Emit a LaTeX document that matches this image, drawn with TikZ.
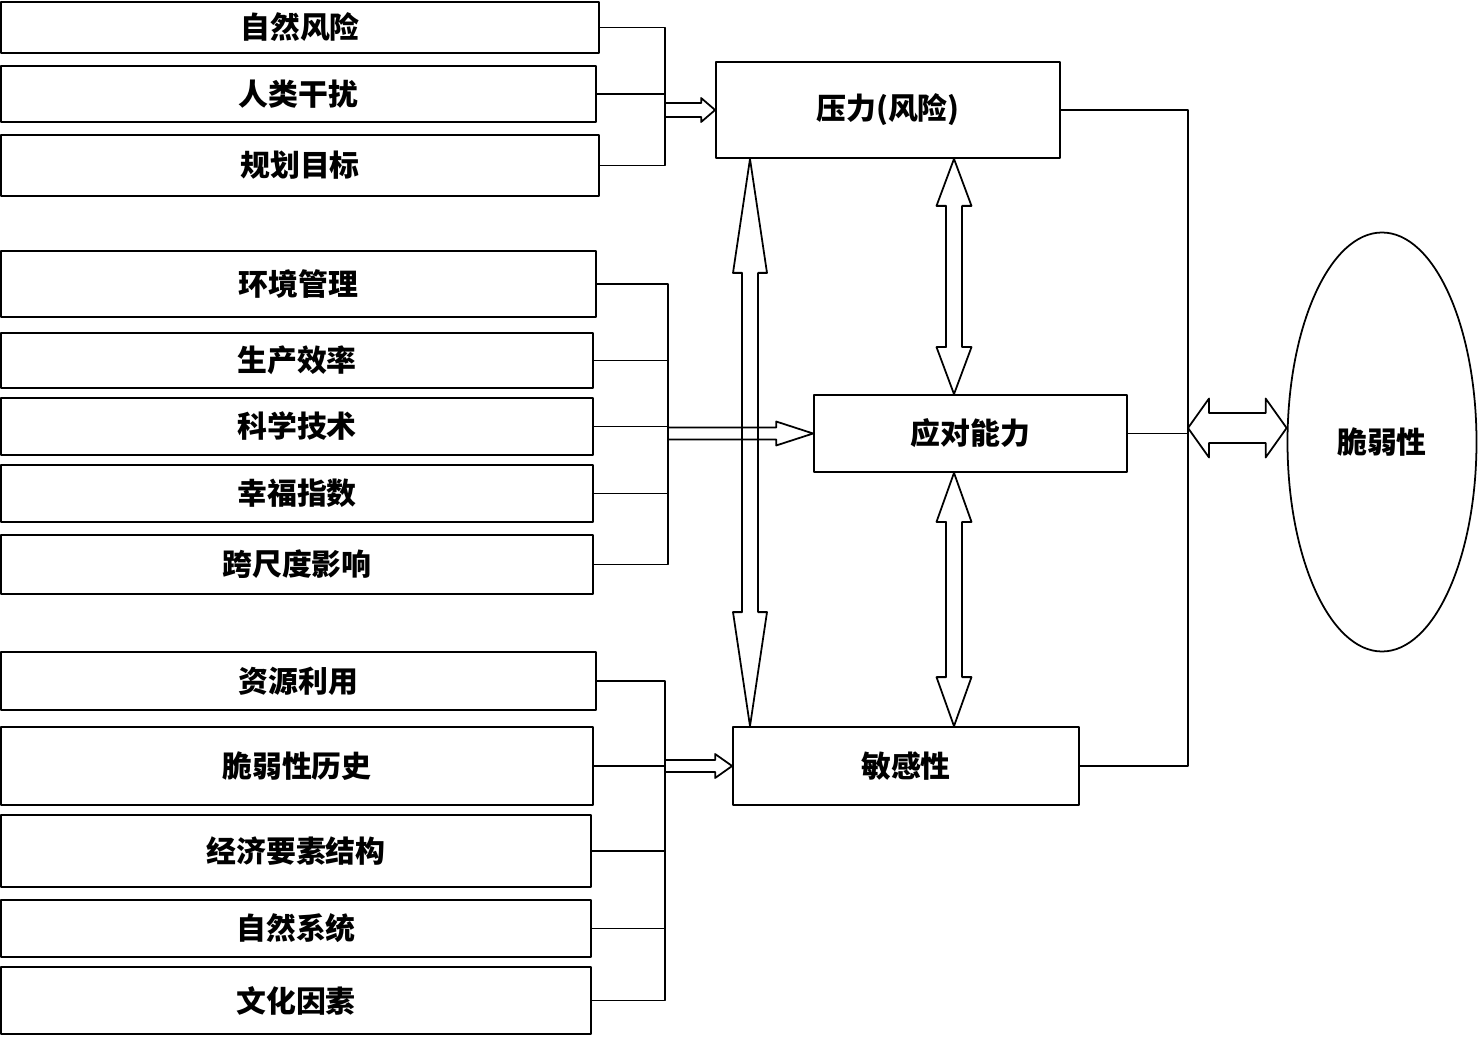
\documentclass[tikz,border=0pt]{standalone}
\usepackage{fontspec}
\usepackage{tikz}
\usetikzlibrary{calc,shapes.geometric}
\newfontfamily\cjk{Noto Sans CJK SC}
\tikzset{
  box/.style 2 args={draw,rectangle,minimum width=#1*0.02cm,minimum height=#2*0.02cm},
  harr/.style n args={3}{to path={($(\tikztostart)+(0,-#1)$) -- ($(\tikztotarget)+(-#3,-#1)$) -- ($(\tikztotarget)+(-#3,-#2)$) -- (\tikztotarget) -- ($(\tikztotarget)+(-#3,#2)$) -- ($(\tikztotarget)+(-#3,#1)$) -- ($(\tikztostart)+(0,#1)$)}},
  hdbl/.style n args={3}{to path={(\tikztostart) -- ($(\tikztostart)+(#3,-#2)$) -- ($(\tikztostart)+(#3,-#1)$) -- ($(\tikztotarget)+(-#3,-#1)$) -- ($(\tikztotarget)+(-#3,-#2)$) -- (\tikztotarget) -- ($(\tikztotarget)+(-#3,#2)$) -- ($(\tikztotarget)+(-#3,#1)$) -- ($(\tikztostart)+(#3,#1)$) -- ($(\tikztostart)+(#3,#2)$) -- cycle}},
  vdbl/.style n args={3}{to path={(\tikztostart) -- ($(\tikztostart)+(#2,#3)$) -- ($(\tikztostart)+(#1,#3)$) -- ($(\tikztotarget)+(#1,-#3)$) -- ($(\tikztotarget)+(#2,-#3)$) -- (\tikztotarget) -- ($(\tikztotarget)+(-#2,-#3)$) -- ($(\tikztotarget)+(-#1,-#3)$) -- ($(\tikztostart)+(-#1,#3)$) -- ($(\tikztostart)+(-#2,#3)$) -- cycle}}
}

\begin{document}
\begin{tikzpicture}[x=0.02cm,y=-0.02cm,line width=1pt,line join=round,
  every node/.style={inner sep=0pt,font=\cjk\bfseries\fontsize{17}{20}\selectfont}]
\useasboundingbox (0,0) rectangle (1478,1037);
\node[box={598}{51}] (nat) at (300,27.5) {自然风险};
\node[box={595}{56}] (hum) at (298.5,94) {人类干扰};
\node[box={598}{61}] (plan) at (300,165.5) {规划目标};
\node[box={595}{66}] (env) at (298.5,284) {环境管理};
\node[box={592}{55}] (prod) at (297,360.5) {生产效率};
\node[box={592}{57}] (tech) at (297,426.5) {科学技术};
\node[box={592}{57}] (happy) at (297,493.5) {幸福指数};
\node[box={592}{59}] (cross) at (297,564.5) {跨尺度影响};
\node[box={595}{58}] (res) at (298.5,681) {资源利用};
\node[box={592}{78}] (hist) at (297,766) {脆弱性历史};
\node[box={590}{72}] (econ) at (296,851) {经济要素结构};
\node[box={590}{57}] (natsys) at (296,928.5) {自然系统};
\node[box={590}{67}] (cult) at (296,1000.5) {文化因素};
\node[box={344}{96}] (pres) at (888,110) {压力(风险)};
\node[box={313}{77}] (cope) at (970.5,433.5) {应对能力};
\node[box={346}{78}] (sens) at (906,766) {敏感性};
\node[draw,ellipse,minimum width=189*0.02cm,minimum height=419*0.02cm] (vul) at (1382,442) {脆弱性};
\coordinate (ka) at (665,110);
\coordinate (kb) at (668,433.5);
\coordinate (kc) at (665,766);
\coordinate (kr) at (1188,428);
\coordinate (lx) at (750,0);
\coordinate (mx) at (954,0);
\draw (nat.east) -| (ka);
\draw (plan.east) -| (ka);
\draw (hum.east) -- (hum.east -| ka);
\draw (env.east) -| (kb);
\draw (prod.east) -| (kb);
\draw (tech.east) -- (tech.east -| kb);
\draw (happy.east) -| (kb);
\draw (cross.east) -| (kb);
\draw (res.east) -| (kc);
\draw (hist.east) -- (hist.east -| kc);
\draw (econ.east) -| (kc);
\draw (natsys.east) -| (kc);
\draw (cult.east) -| (kc);
\draw[harr={7}{12}{14}] (ka) to (pres.west);
\draw[harr={6}{12}{37}] (kb) to (cope.west);
\draw[harr={6}{12}{17}] (kc) to (sens.west);
\draw[vdbl={8}{17}{114}] (pres.south -| lx) to (sens.north -| lx);
\draw[vdbl={8}{17.5}{47}] (pres.south -| mx) to (cope.north -| mx);
\draw[vdbl={8}{17.5}{49}] (cope.south -| mx) to (sens.north -| mx);
\draw (pres.east) -| (kr);
\draw (sens.east) -| (kr);
\draw (cope.east) -- (cope.east -| kr);
\draw[hdbl={15}{29.5}{21}] (kr) to (kr -| vul.west);
\end{tikzpicture}
\end{document}
